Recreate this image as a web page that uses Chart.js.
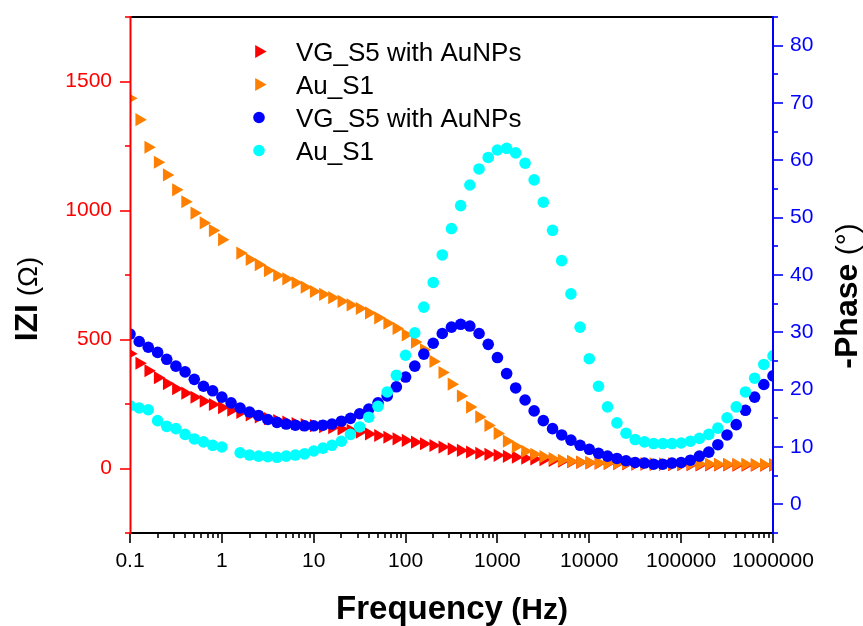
<!DOCTYPE html>
<html>
<head>
<meta charset="utf-8">
<script src="https://cdn.jsdelivr.net/npm/chart.js@4.4.0/dist/chart.umd.min.js"></script>
<style>
    html, body { margin: 0; padding: 0; background: #fff; }
</style>
</head>
<body>
<canvas id="chart" width="863" height="626"></canvas>
<script>
// frequency points (Hz), 10 per decade
const FREQ = [
    0.1, 0.126, 0.158, 0.2, 0.251, 0.316, 0.398, 0.501, 0.631, 0.794,
    1, 1.26, 1.58, 2, 2.51, 3.16, 3.98, 5.01, 6.31, 7.94,
    10, 12.6, 15.8, 20, 25.1, 31.6, 39.8, 50.1, 63.1, 79.4,
    100, 126, 158, 200, 251, 316, 398, 501, 631, 794,
    1000, 1260, 1580, 2000, 2510, 3160, 3980, 5010, 6310, 7940,
    10000, 12600, 15800, 20000, 25100, 31600, 39800, 50100, 63100, 79400,
    100000, 126000, 158000, 200000, 251000, 316000, 398000, 501000, 631000, 794000,
    1000000
];

// |Z| (ohm), left axis
const Z_VG = [
    445, 408, 379, 352, 329, 309, 292, 276, 261, 248,
    236, 226, 217, 208, 200, 193, 186, 180, 174, 170,
    166, 162, 158, 153, 148, 141, 134, 128, 121, 115,
    109, 102, 96, 89, 83, 76, 70, 64, 59, 55,
    51, 47, 44, 40, 37, 34, 31, 28, 26, 24,
    22, 21, 20, 19, 18, 17, 17, 16, 16, 15,
    15, 15, 14, 14, 14, 14, 13, 13, 13, 13, 13
];
const Z_AU = [
    1435, 1352, 1245, 1187, 1138, 1080, 1034, 990, 952, 922,
    887, null, 835, 810, 790, 767, 748, 735, 720, 703,
    686, 675, 662, 648, 634, 620, 603, 584, 563, 543,
    518, 490, 460, 415, 372, 327, 281, 238, 200, 167,
    136, 106, 85, 67, 55, 46, 38, 32, 28, 25,
    23, 22, 21, 20, 20, 19, 19, 18, 18, 18,
    17, 17, 17, 17, 16, 16, 16, 16, 15, 15, 15
];

// -Phase (degrees), right axis
const PHASE_VG = [
    29.7, 28.4, 27.4, 26.5, 25.3, 24.1, 23.1, 21.8, 20.6, 19.8,
    18.7, 17.7, 16.8, 16.1, 15.5, 14.8, 14.3, 14.0, 13.8, 13.7,
    13.7, 13.8, 14.0, 14.5, 15.0, 15.8, 16.6, 17.7, 18.9, 20.5,
    22.2, 24.1, 26.2, 28.1, 29.8, 30.9, 31.4, 31.1, 29.8, 27.9,
    25.6, 22.8, 20.3, 18.2, 16.3, 14.6, 13.2, 12.1, 11.2, 10.3,
    9.6, 8.9, 8.4, 8.0, 7.6, 7.3, 7.2, 7.0, 7.0, 7.2,
    7.3, 7.7, 8.4, 9.1, 10.4, 12.1, 13.9, 16.4, 18.7, 20.9, 22.4
];
const PHASE_AU = [
    17.2, 16.8, 16.5, 14.6, 13.6, 13.2, 12.2, 11.4, 10.9, 10.3,
    10.0, null, 9.0, 8.6, 8.4, 8.3, 8.2, 8.4, 8.6, 8.8,
    9.3, 9.8, 10.3, 11.0, 12.2, 13.5, 15.2, 17.1, 19.6, 22.5,
    26.0, 29.9, 34.4, 38.7, 43.5, 48.1, 52.1, 55.7, 58.5, 60.5,
    61.8, 62.1, 61.3, 59.5, 56.6, 52.7, 47.8, 42.5, 36.7, 30.9,
    25.4, 20.6, 17.0, 14.2, 12.4, 11.3, 10.9, 10.6, 10.6, 10.6,
    10.7, 11.0, 11.5, 12.2, 13.3, 15.1, 17.0, 19.6, 22.0, 24.4, 25.9
];

const X_TICKS = [0.1, 1, 10, 100, 1000, 10000, 100000, 1000000];
const X_TICK_LABELS = ['0.1', '1', '10', '100', '1000', '10000', '100000', '1000000'];
const Z_TICKS = [0, 500, 1000, 1500];
const PHASE_TICKS = [0, 10, 20, 30, 40, 50, 60, 70, 80];

const FONT = '"Liberation Sans", Arial, sans-serif';
const RED = '#ff0000';
const ORANGE = '#ff8000';
const BLUE = '#0000ff';
const CYAN = '#00ffff';


function toPoints(values) {
    const pts = [];
    FREQ.forEach((f, i) => {
        if (values[i] !== null) pts.push({ x: f, y: values[i] });
    });
    return pts;
}


function markerStyle(color, style) {
    const tri = style === 'triangle';
    return {
        pointStyle: style,
        pointRotation: tri ? 90 : 0,
        pointRadius: tri ? 7.6 : 5.8,
        pointHoverRadius: tri ? 7.6 : 5.8,
        pointBorderWidth: 0,
        backgroundColor: color,
        borderColor: color,
        showLine: false
    };
}


// keep the plot box fixed: no extra label padding from the scales
function fixBox(size) {
    return s => {
        if (s.isHorizontal()) {
            s.height = size;
        } else {
            s.width = size;
        }
        s.paddingTop = 0;
        s.paddingBottom = 0;
        s.paddingLeft = 0;
        s.paddingRight = 0;
    };
}


// axis lines, tick marks and the top frame line
const framePlugin = {
    id: 'frame',
    afterDraw(chart) {
        const ctx = chart.ctx;
        const a = chart.chartArea;
        const sx = chart.scales.x;
        const sy = chart.scales.y;
        const sy2 = chart.scales.y2;

        ctx.save();
        ctx.lineWidth = 2;

        // top
        ctx.strokeStyle = '#000';
        ctx.beginPath();
        ctx.moveTo(a.left, a.top);
        ctx.lineTo(a.right, a.top);
        ctx.stroke();

        // bottom axis + ticks
        ctx.beginPath();
        ctx.moveTo(a.left, a.bottom);
        ctx.lineTo(a.right + 1, a.bottom);
        ctx.stroke();
        ctx.lineWidth = 1.6;
        X_TICKS.forEach(t => {
            for (let k = 1; k <= 9; k++) {
                const v = t * k;
                if (v > 1000000 * 1.0001) break;
                const px = Math.round(sx.getPixelForValue(v));
                const len = k === 1 ? 10 : 5;
                ctx.beginPath();
                ctx.moveTo(px, a.bottom);
                ctx.lineTo(px, a.bottom + len);
                ctx.stroke();
            }
        });

        // left axis
        ctx.strokeStyle = RED;
        ctx.lineWidth = 2;
        ctx.beginPath();
        ctx.moveTo(a.left + 0.5, a.top - 1);
        ctx.lineTo(a.left + 0.5, a.bottom + 1);
        ctx.stroke();
        ctx.lineWidth = 1.6;
        for (let v = -250; v <= 1750; v += 250) {
            const py = Math.round(sy.getPixelForValue(v));
            const len = v % 500 === 0 ? 10 : 5;
            ctx.beginPath();
            ctx.moveTo(a.left, py);
            ctx.lineTo(a.left - len, py);
            ctx.stroke();
        }

        // right axis
        ctx.strokeStyle = BLUE;
        ctx.lineWidth = 2;
        ctx.beginPath();
        ctx.moveTo(a.right, a.top - 1);
        ctx.lineTo(a.right, a.bottom + 1);
        ctx.stroke();
        ctx.lineWidth = 1.6;
        for (let v = -5; v <= 85; v += 5) {
            const py = Math.round(sy2.getPixelForValue(v));
            const len = v % 10 === 0 ? 10 : 5;
            ctx.beginPath();
            ctx.moveTo(a.right, py);
            ctx.lineTo(a.right + len, py);
            ctx.stroke();
        }
        ctx.restore();
    }
};


// mixed-weight axis titles
function drawPieces(ctx, pieces, cx, y) {
    let total = 0;
    pieces.forEach(p => {
        ctx.font = p.font;
        p.w = ctx.measureText(p.text).width;
        total += p.w;
    });
    let x = cx - total / 2;
    pieces.forEach(p => {
        ctx.font = p.font;
        ctx.fillText(p.text, x, y);
        x += p.w;
    });
}

const titlePlugin = {
    id: 'titles',
    afterDraw(chart) {
        const ctx = chart.ctx;
        ctx.save();
        ctx.fillStyle = '#000';
        ctx.textBaseline = 'alphabetic';
        ctx.textAlign = 'left';

        drawPieces(ctx, [
            { text: 'Frequency', font: 'bold 33px ' + FONT },
            { text: ' (Hz)', font: 'bold 30px ' + FONT }
        ], 452, 619);

        ctx.save();
        ctx.translate(37, 299);
        ctx.rotate(-Math.PI / 2);
        drawPieces(ctx, [
            { text: 'IZI', font: 'bold 32px ' + FONT },
            { text: ' (Ω)', font: '28px ' + FONT }
        ], 0, 0);
        ctx.restore();

        ctx.save();
        ctx.translate(857, 296);
        ctx.rotate(-Math.PI / 2);
        drawPieces(ctx, [
            { text: '-Phase', font: 'bold 32px ' + FONT },
            { text: ' (°)', font: '30px ' + FONT }
        ], 0, 0);
        ctx.restore();

        ctx.restore();
    }
};


// legend inside the plot
const legendPlugin = {
    id: 'insideLegend',
    afterDraw(chart) {
        const ctx = chart.ctx;
        const rows = [51.5, 84.5, 117.5, 150.5];
        ctx.save();
        chart.data.datasets.forEach((ds, i) => {
            const y = rows[i];
            ctx.fillStyle = ds.backgroundColor;
            Chart.helpers.drawPoint(ctx, {
                pointStyle: ds.pointStyle,
                rotation: ds.pointRotation,
                radius: ds.pointRadius,
                borderWidth: 0
            }, 259, y);
            ctx.fillStyle = '#000';
            ctx.font = '26px ' + FONT;
            ctx.textAlign = 'left';
            ctx.textBaseline = 'alphabetic';
            ctx.fillText(ds.label, 296, y + 9.5);
        });
        ctx.restore();
    }
};


let impedanceChart = null;
function createChart() {
    const ctx = document.getElementById('chart');

    const datasets = [
        Object.assign({ label: 'VG_S5 with AuNPs', data: toPoints(Z_VG), yAxisID: 'y', order: 3 },
            markerStyle(RED, 'triangle')),
        Object.assign({ label: 'Au_S1', data: toPoints(Z_AU), yAxisID: 'y', order: 2 },
            markerStyle(ORANGE, 'triangle')),
        Object.assign({ label: 'VG_S5 with AuNPs', data: toPoints(PHASE_VG), yAxisID: 'y2', order: 1 },
            markerStyle(BLUE, 'circle')),
        Object.assign({ label: 'Au_S1', data: toPoints(PHASE_AU), yAxisID: 'y2', order: 0 },
            markerStyle(CYAN, 'circle'))
    ];

    impedanceChart = new Chart(ctx, {
        type: 'scatter',
        data: { datasets: datasets },
        options: {
            responsive: false,
            animation: false,
            layout: { padding: { top: 17, left: 0, right: 0, bottom: 0 } },
            plugins: {
                legend: { display: false },
                tooltip: { enabled: false }
            },
            scales: {
                x: {
                    type: 'logarithmic',
                    position: 'bottom',
                    min: 0.1,
                    max: 1000000,
                    afterBuildTicks: s => { s.ticks = X_TICKS.map(v => ({ value: v })); },
                    afterFit: fixBox(93),
                    grid: { display: false, drawTicks: false },
                    border: { display: false },
                    ticks: {
                        autoSkip: false,
                        maxRotation: 0,
                        minRotation: 0,
                        padding: 16,
                        color: '#000',
                        font: { family: FONT, size: 21 },
                        callback: (value, index) => X_TICK_LABELS[index]
                    }
                },
                y: {
                    type: 'linear',
                    position: 'left',
                    min: -250,
                    max: 1750,
                    afterBuildTicks: s => { s.ticks = Z_TICKS.map(v => ({ value: v })); },
                    afterFit: fixBox(130),
                    grid: { display: false, drawTicks: false },
                    border: { display: false },
                    ticks: {
                        padding: 18,
                        color: RED,
                        font: { family: FONT, size: 21 },
                        callback: value => String(value)
                    }
                },
                y2: {
                    type: 'linear',
                    position: 'right',
                    min: -5,
                    max: 85,
                    afterBuildTicks: s => { s.ticks = PHASE_TICKS.map(v => ({ value: v })); },
                    afterFit: fixBox(90),
                    grid: { display: false, drawTicks: false },
                    border: { display: false },
                    ticks: {
                        padding: 17,
                        color: BLUE,
                        font: { family: FONT, size: 21 },
                        callback: value => String(value)
                    }
                }
            }
        },
        plugins: [framePlugin, titlePlugin, legendPlugin]
    });
}

createChart();
</script>
</body>
</html>
